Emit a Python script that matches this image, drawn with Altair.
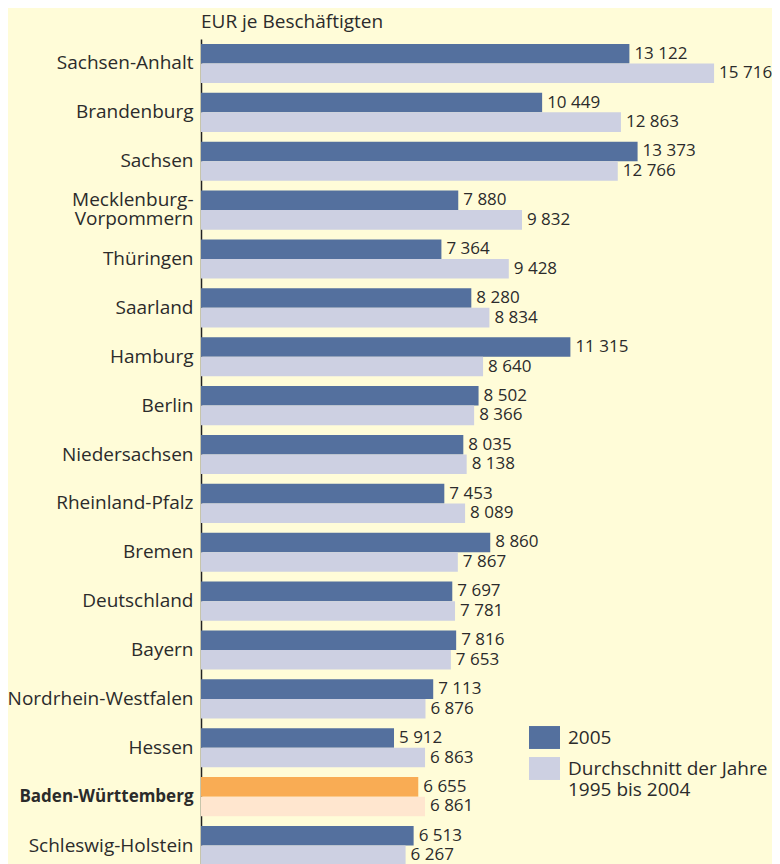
import altair as alt
import pandas as pd

states = ["Sachsen-Anhalt", "Brandenburg", "Sachsen", "Mecklenburg-Vorpommern",
          "Thüringen", "Saarland", "Hamburg", "Berlin", "Niedersachsen",
          "Rheinland-Pfalz", "Bremen", "Deutschland", "Bayern",
          "Nordrhein-Westfalen", "Hessen", "Baden-Württemberg", "Schleswig-Holstein"]
v2005 = [13122, 10449, 13373, 7880, 7364, 8280, 11315, 8502, 8035, 7453, 8860,
         7697, 7816, 7113, 5912, 6655, 6513]
vavg = [15716, 12863, 12766, 9832, 9428, 8834, 8640, 8366, 8138, 8089, 7867,
        7781, 7653, 6876, 6863, 6861, 6267]
series = ["2005", "Durchschnitt der Jahre 1995 bis 2004"]
highlight = "Baden-Württemberg"

rows = []
for s, a, b in zip(states, v2005, vavg):
    for ser, v in zip(series, [a, b]):
        key = ser if s != highlight else ser + " (BW)"
        rows.append({"Land": s, "Reihe": ser, "Wert": v, "Farbe": key,
                     "Label": f"{v:,}".replace(",", " ")})
df = pd.DataFrame(rows)

FONT = "Open Sans"
TXT = "#2b2b2b"
BG = "#FFFCD8"

color_domain = [series[0], series[1], series[0] + " (BW)", series[1] + " (BW)"]
color_range = ["#54709E", "#CDD0E2", "#F9AC54", "#FFE6CF"]

y_enc = alt.Y("Land:N", sort=states, title=None,
              scale=alt.Scale(paddingInner=0.2, paddingOuter=0.1),
              axis=alt.Axis(
                  labelFont=FONT, labelColor=TXT,
                  labelPadding=8, ticks=False, domainColor="#222222",
                  domainWidth=1.5, labelLimit=400, labelLineHeight=19,
                  labelExpr="datum.label == 'Mecklenburg-Vorpommern' ? ['Mecklenburg-', 'Vorpommern'] : datum.label",
                  labelOffset={"expr": "datum.value == 'Mecklenburg-Vorpommern' ? -10 : 0"},
                  labelFontSize={"expr": "datum.value == 'Baden-Württemberg' ? 17 : 19"},
                  labelFontWeight={"expr": "datum.value == 'Baden-Württemberg' ? 'bold' : 'normal'"}))
yoff = alt.YOffset("Reihe:N", sort=series, scale=alt.Scale(paddingInner=0, paddingOuter=0))
x_enc = alt.X("Wert:Q", scale=alt.Scale(domain=[0, 17000], nice=False), axis=None)

bars = alt.Chart(df).mark_bar().encode(
    x=x_enc, y=y_enc, yOffset=yoff,
    color=alt.Color("Farbe:N", scale=alt.Scale(domain=color_domain, range=color_range),
                    legend=alt.Legend(
                        title=None, values=series, orient="none",
                        legendX=328, legendY=683,
                        symbolType="M-1,-0.74L1,-0.74L1,0.74L-1,0.74Z",
                        symbolSize=961, symbolStrokeWidth=0, symbolOpacity=1,
                        labelFont=FONT, labelFontSize=19, labelColor=TXT,
                        labelOffset=8, rowPadding=4, labelLimit=400,
                        labelExpr="datum.label == '2005' ? '2005' : ['Durchschnitt der Jahre', '1995 bis 2004']")),
)

labels = alt.Chart(df).mark_text(align="left", baseline="middle", dx=5,
                                 font=FONT, fontSize=17, color=TXT).encode(
    x=x_enc, y=alt.Y("Land:N", sort=states), yOffset=yoff, text="Label:N")

chart = (bars + labels).properties(
    width=555, height=831,
    title=alt.TitleParams("EUR je Beschäftigten", anchor="start", frame="group",
                          font=FONT, fontSize=19, fontWeight="normal", color=TXT,
                          offset=7),
    autosize=alt.AutoSizeParams(type="none"),
    padding={"left": 193, "top": 31, "right": 16, "bottom": 0},
    background=BG,
).configure_view(stroke=None, fill=BG)

chart.save("out.html", embed_options={"renderer": "svg", "actions": False})
